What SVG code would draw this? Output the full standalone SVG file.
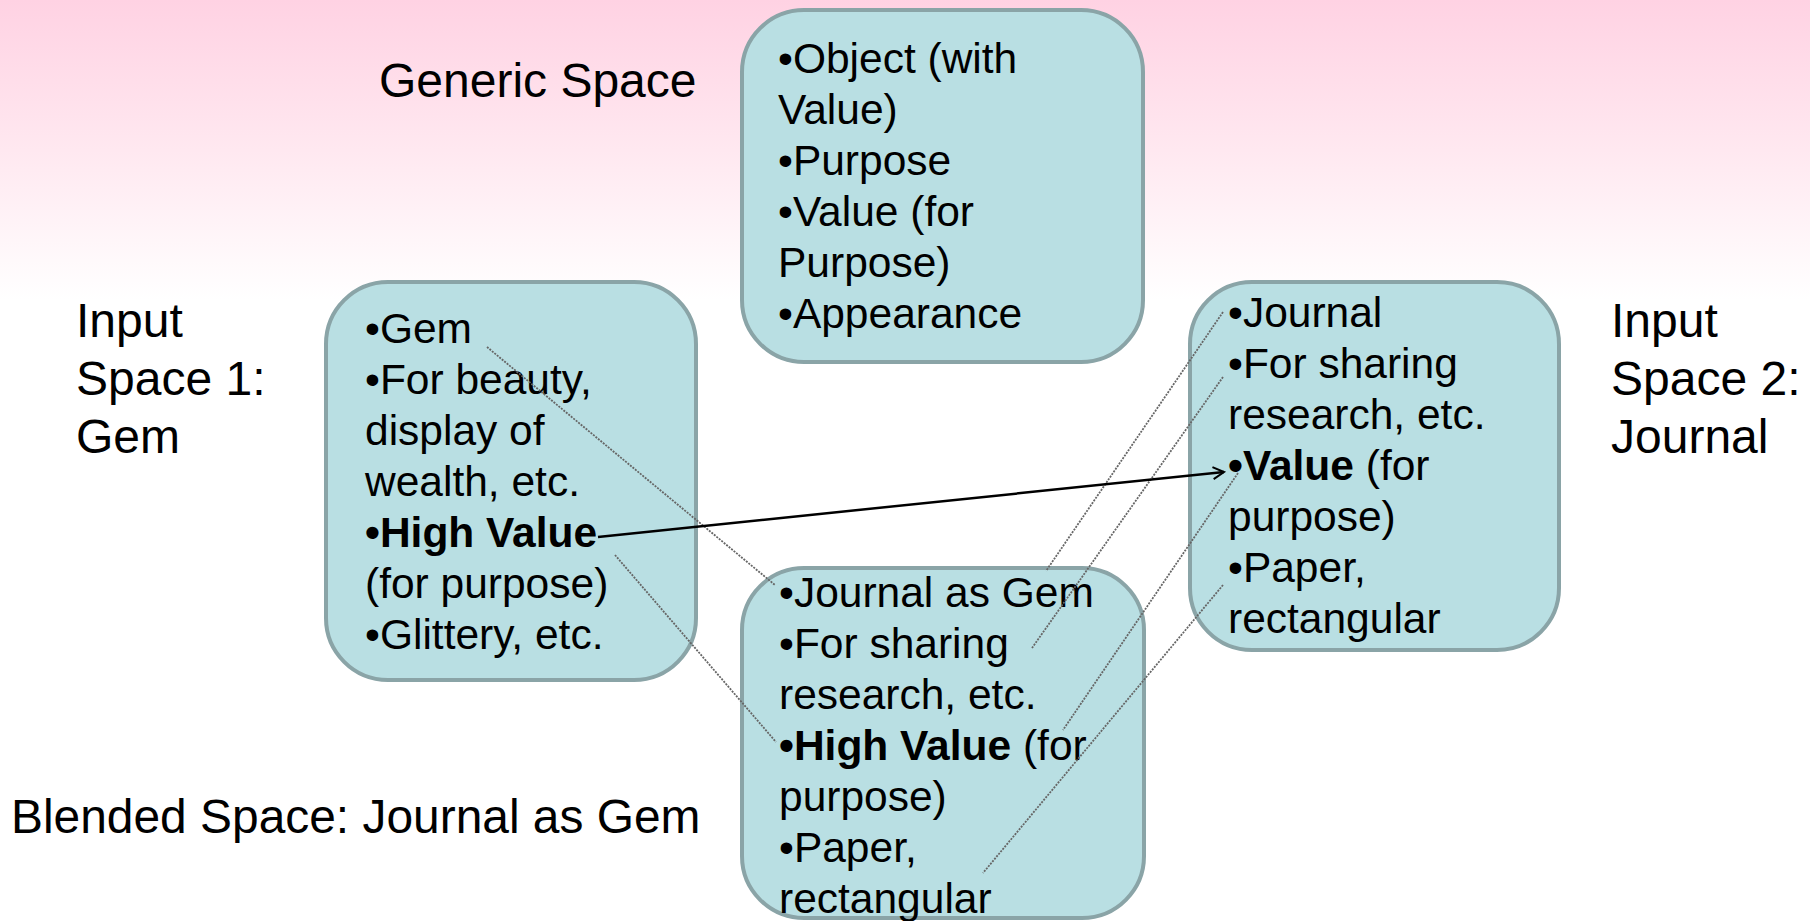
<svg xmlns="http://www.w3.org/2000/svg" width="1810" height="921" viewBox="0 0 1810 921">
  <defs>
    <linearGradient id="bg" x1="0" y1="0" x2="0" y2="300" gradientUnits="userSpaceOnUse">
      <stop offset="0" stop-color="#ffd2e3"/>
      <stop offset="0.5" stop-color="#ffe8f0"/>
      <stop offset="1" stop-color="#ffffff"/>
    </linearGradient>
    <marker id="arrow" markerWidth="14" markerHeight="14" refX="12" refY="7" orient="auto" markerUnits="userSpaceOnUse">
      <path d="M1,1 L12,7 L1,13" fill="none" stroke="#000" stroke-width="2"/>
    </marker>
    <style>
      .box { fill: #b9dfe3; stroke: #8aa4a7; stroke-width: 4; }
      .t { font-family: "Liberation Sans", Arial, sans-serif; font-size: 42.5px; fill: #000; }
      .lbl { font-family: "Liberation Sans", Arial, sans-serif; font-size: 48px; fill: #000; }
      .b { font-weight: bold; }
      .dot { stroke: #666666; stroke-width: 1.8; stroke-dasharray: 2 1.2; fill: none; }
      .solid { stroke: #000; stroke-width: 2.5; fill: none; }
    </style>
  </defs>
  <rect x="0" y="0" width="1810" height="921" fill="url(#bg)"/>

  <g id="label-generic"><text class="lbl" x="379" y="97">Generic Space</text></g>
  <g id="label-input1">
    <text class="lbl" x="76" y="337">Input</text>
    <text class="lbl" x="76" y="395">Space 1:</text>
    <text class="lbl" x="76" y="453">Gem</text>
  </g>
  <g id="label-input2">
    <text class="lbl" x="1611" y="337">Input</text>
    <text class="lbl" x="1611" y="395">Space 2:</text>
    <text class="lbl" x="1611" y="453">Journal</text>
  </g>
  <g id="label-blended"><text class="lbl" x="11" y="833" style="font-size:47.9px">Blended Space: Journal as Gem</text></g>

  <g id="generic-space">
    <rect class="box" x="742" y="10" width="401" height="352" rx="62" ry="62"/>
    <text class="t" x="778" y="73">•Object (with</text>
    <text class="t" x="778" y="124">Value)</text>
    <text class="t" x="778" y="175">•Purpose</text>
    <text class="t" x="778" y="226">•Value (for</text>
    <text class="t" x="778" y="277">Purpose)</text>
    <text class="t" x="778" y="328">•Appearance</text>
  </g>

  <g id="input-space-1">
    <rect class="box" x="326" y="282" width="370" height="398" rx="62" ry="62"/>
    <text class="t" x="365" y="343">•Gem</text>
    <text class="t" x="365" y="394">•For beauty,</text>
    <text class="t" x="365" y="445">display of</text>
    <text class="t" x="365" y="496">wealth, etc.</text>
    <text class="t b" x="365" y="547">•High Value</text>
    <text class="t" x="365" y="598">(for purpose)</text>
    <text class="t" x="365" y="649">•Glittery, etc.</text>
  </g>

  <g id="input-space-2">
    <rect class="box" x="1190" y="282" width="369" height="368" rx="62" ry="62"/>
    <text class="t" x="1228" y="327">•Journal</text>
    <text class="t" x="1228" y="378">•For sharing</text>
    <text class="t" x="1228" y="429">research, etc.</text>
    <text class="t" x="1228" y="480"><tspan class="b">•Value</tspan> (for</text>
    <text class="t" x="1228" y="531">purpose)</text>
    <text class="t" x="1228" y="582">•Paper,</text>
    <text class="t" x="1228" y="633">rectangular</text>
  </g>

  <g id="blended-space">
    <rect class="box" x="742" y="568" width="402" height="350" rx="62" ry="62"/>
    <text class="t" x="779" y="607">•Journal as Gem</text>
    <text class="t" x="779" y="658">•For sharing</text>
    <text class="t" x="779" y="709">research, etc.</text>
    <text class="t" x="779" y="760"><tspan class="b">•High Value</tspan> (for</text>
    <text class="t" x="779" y="811">purpose)</text>
    <text class="t" x="779" y="862">•Paper,</text>
    <text class="t" x="779" y="913">rectangular</text>
  </g>

  <g id="connectors">
    <line class="dot" x1="487" y1="347" x2="775" y2="585"/>
    <line class="dot" x1="615" y1="555" x2="776" y2="742"/>
    <line class="dot" x1="1223" y1="312" x2="1046" y2="571"/>
    <line class="dot" x1="1223" y1="377" x2="1032" y2="648"/>
    <line class="dot" x1="1238" y1="473" x2="1063" y2="730"/>
    <line class="dot" x1="1223" y1="585" x2="983" y2="873"/>
    <line class="solid" x1="598" y1="537" x2="1224" y2="472" marker-end="url(#arrow)"/>
  </g>
</svg>
